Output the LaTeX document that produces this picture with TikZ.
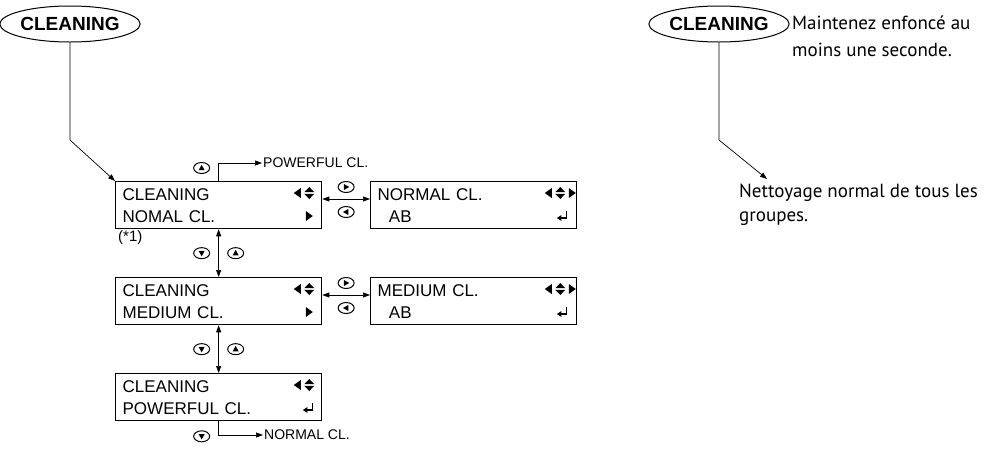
\documentclass[tikz,border=0pt]{standalone}
\usepackage{fontspec}
\setmainfont{Liberation Sans}
\newfontfamily\notefont{PT Sans}
\usetikzlibrary{arrows.meta,calc,shapes.geometric}

\tikzset{
    keybtn/.pic={
        \draw[line width=1pt] (0,0) ellipse [x radius=8pt, y radius=5.5pt];
        \fill[rotate=#1] (3.2pt,0) -- (-2.2pt,3pt) -- (-2.2pt,-3pt) -- cycle;
    },
    lcdleft/.pic={\fill (-3.5pt,0) -- (3.5pt,5pt) -- (3.5pt,-5pt) -- cycle;},
    lcdright/.pic={\fill (3.5pt,0) -- (-3.5pt,5pt) -- (-3.5pt,-5pt) -- cycle;},
    lcdupdown/.pic={
        \fill (-5pt,0.8pt) -- (5pt,0.8pt) -- (0,6pt) -- cycle;
        \fill (-5pt,-0.8pt) -- (5pt,-0.8pt) -- (0,-6pt) -- cycle;
    },
    lcdenter/.pic={
        \draw[line width=1.1pt,-{Triangle[length=4.5pt,width=5.5pt]}]
            (3.5pt,5.5pt) -- (3.5pt,-2pt) -- (-6.5pt,-2pt);
    }
}

\begin{document}
\begin{tikzpicture}[
    x=1pt, y=-1pt,
    >={Triangle[length=7pt,width=5pt]},
    line cap=butt,
    line join=miter,
    lcd/.style={draw, line width=1.3pt, rectangle, anchor=north west,
        minimum height=47pt, text width=192pt, inner xsep=7pt, inner ysep=0pt,
        align=left, font=\fontsize{17}{22}\selectfont},
    panelkey/.style={draw, line width=1pt, ellipse, inner sep=0pt,
        minimum width=120pt, minimum height=36pt,
        font=\fontsize{19}{21}\selectfont\bfseries},
    menutxt/.style={anchor=west, inner sep=1pt, font=\fontsize{14}{16}\selectfont},
    notetxt/.style={anchor=north west, inner sep=0pt, align=left,
        font=\notefont\fontsize{19}{26}\selectfont},
    link/.style={line width=0.7pt}
]

% Frame
\useasboundingbox (0,0) rectangle (1008,448);

% Parameters
\def\arrowdy{18}

% Panel keys
\node[panelkey] (clean1) at (70,24) {CLEANING};
\node[panelkey] (clean2) at (719,24) {CLEANING};

% Menu boxes
\node[lcd] (nomal) at (115,181) {CLEANING\\NOMAL CL.};
\node[lcd] (normal) at (370,181) {NORMAL CL.\\\ \ AB};
\node[lcd] (medium) at (115,277) {CLEANING\\MEDIUM CL.};
\node[lcd] (mediumab) at (370,277) {MEDIUM CL.\\\ \ AB};
\node[lcd] (powerful) at (115,373) {CLEANING\\POWERFUL CL.};

% Box symbols
\foreach \b in {nomal,medium}{
    \pic at ($(\b.north east)+(-25,12)$) {lcdleft};
    \pic at ($(\b.north east)+(-13,12)$) {lcdupdown};
    \pic at ($(\b.north east)+(-13,35)$) {lcdright};
}
\foreach \b in {normal,mediumab}{
    \pic at ($(\b.north east)+(-29,12)$) {lcdleft};
    \pic at ($(\b.north east)+(-17,12)$) {lcdupdown};
    \pic at ($(\b.north east)+(-5,12)$) {lcdright};
    \pic at ($(\b.north east)+(-14,35)$) {lcdenter};
}
\pic at ($(powerful.north east)+(-25,12)$) {lcdleft};
\pic at ($(powerful.north east)+(-13,12)$) {lcdupdown};
\pic at ($(powerful.north east)+(-13,35)$) {lcdenter};

% Side labels
\node[menutxt] (pwtxt) at (262,163) {POWERFUL CL.};
\node[menutxt] (nmtxt) at (263,435) {NORMAL CL.};
\node[menutxt, font=\fontsize{15}{17}\selectfont] (note1) at (117,238) {(*1)};

% Hold notes
\node[notetxt, font=\notefont\fontsize{19}{27}\selectfont] (hold) at (792,16)
    {Maintenez enfoncé au\\moins une seconde.};
\node[notetxt, font=\notefont\fontsize{19}{24}\selectfont] (desc) at (739,184)
    {Nettoyage normal de tous les\\groupes.};

% Connectors from keys
\coordinate (bend1) at (70,140);
\coordinate (bend2) at (719,140);
\coordinate (tip2) at (767,179);
\draw[link,->] (clean1.south) -- (bend1) -- (nomal.north west);
\draw[link,->] (clean2.south) -- (bend2) -- (tip2);

% Horizontal links
\draw[link,<->] ($(nomal.north east)+(0,\arrowdy)$) -- ($(normal.north west)+(0,\arrowdy)$);
\draw[link,<->] ($(medium.north east)+(0,\arrowdy)$) -- ($(mediumab.north west)+(0,\arrowdy)$);
\pic at ($(nomal.north east)!0.5!(normal.north west)+(0,6)$) {keybtn=0};
\pic at ($(nomal.north east)!0.5!(normal.north west)+(0,31)$) {keybtn=180};
\pic at ($(medium.north east)!0.5!(mediumab.north west)+(0,6)$) {keybtn=0};
\pic at ($(medium.north east)!0.5!(mediumab.north west)+(0,31)$) {keybtn=180};

% Vertical links
\draw[link,<->] (nomal.south) -- (medium.north);
\draw[link,<->] (medium.south) -- (powerful.north);
\pic at ($(nomal.south)!0.5!(medium.north)+(-17,0)$) {keybtn=-90};
\pic at ($(nomal.south)!0.5!(medium.north)+(17,0)$) {keybtn=90};
\pic at ($(medium.south)!0.5!(powerful.north)+(-17,0)$) {keybtn=-90};
\pic at ($(medium.south)!0.5!(powerful.north)+(17,0)$) {keybtn=90};

% Wrap-around links
\draw[link,->] (nomal.north) |- (pwtxt.west);
\draw[link,->] (powerful.south) |- (nmtxt.west);
\pic at ($(nomal.north)+(-17,-13)$) {keybtn=90};
\pic at ($(powerful.south)+(-17,15)$) {keybtn=-90};

\end{tikzpicture}
\end{document}
